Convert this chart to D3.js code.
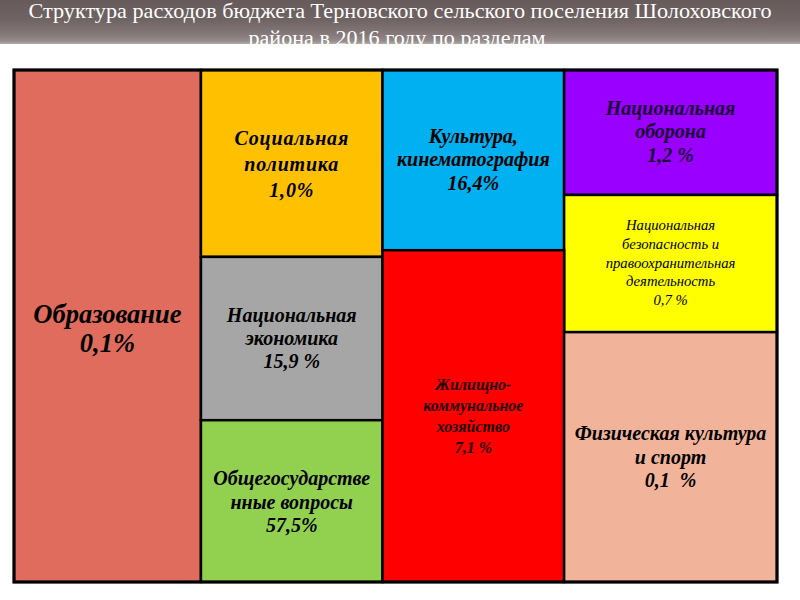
<!DOCTYPE html>
<html>
<head>
<meta charset="utf-8">
<script src="https://cdn.jsdelivr.net/npm/d3@7/dist/d3.min.js"></script>
<style>
html,body{margin:0;padding:0;background:#fff;}
svg{display:block;}
</style>
</head>
<body>
<svg id="chart" width="800" height="600"></svg>
<script>
// ---- data ----
const titleLines = [
  "Структура расходов бюджета Терновского сельского поселения Шолоховского",
  "района в 2016 году по разделам"
];
const categories = [
  ["Образование"],
  ["Социальная", "политика"],
  ["Культура,", "кинематография"],
  ["Национальная", "оборона"],
  ["Национальная", "безопасность и", "правоохранительная", "деятельность"],
  ["Национальная", "экономика"],
  ["Общегосударстве", "нные вопросы"],
  ["Жилищно-", "коммунальное", "хозяйство"],
  ["Физическая культура", "и спорт"]
];
const values = [0.1, 1.0, 16.4, 1.2, 0.7, 15.9, 57.5, 7.1, 0.1];
const valueLabels = ["0,1%", "1,0%", "16,4%", "1,2 %", "0,7 %", "15,9 %", "57,5%", "7,1 %", "0,1  %"];
const colors = ["#E06C5D", "#FFC000", "#00B0F0", "#9900FF", "#FFFF00", "#A6A6A6", "#92D050", "#FF0000", "#F2B39B"];

// ---- layout of the slide's hand-placed boxes (fractions of the frame) ----
const colEdges = [0, 0.245, 0.483, 0.721, 1];
const cellCol  = [0, 1, 2, 3, 3, 1, 1, 2, 3];
const cellY0   = [0, 0, 0, 0, 0.244, 0.365, 0.684, 0.352, 0.512];
const cellY1   = [1, 0.365, 0.352, 0.244, 0.512, 0.684, 1, 1, 1];
const fontSizes = [26.5, 20, 20, 20, 14.7, 20, 20, 16, 20];
const letterSp  = [0, 0.8, 0, 0, 0, 0, 0, 0, 0];
const lineGaps  = [29, 26, 23.5, 23.5, 18.8, 23, 23.5, 21, 23.5];
const textCol   = ["#000", "#000", "#000", "#1a0833", "#000", "#000", "#000", "#1a0000", "#000"];
const weights   = ["bold", "bold", "bold", "bold", "normal", "bold", "bold", "bold", "bold"];
const firstBase = [0.494, 0.401, 0.404, 0.36, 0.255, 0.399, 0.401, 0.421, 0.432];

const svg = d3.select("#chart");
const frame = {x0: 14, x1: 777, y0: 70, y1: 582};
const x = d3.scaleLinear().domain([0, 1]).range([frame.x0, frame.x1]);
const y = d3.scaleLinear().domain([0, 1]).range([frame.y0, frame.y1]);

// title band
const defs = svg.append("defs");
const g = defs.append("linearGradient").attr("id", "band").attr("x1", 0).attr("y1", 0).attr("x2", 0).attr("y2", 1);
[[0, "#675a5a"], [0.45, "#706363"], [0.8, "#867a7a"], [0.93, "#958b8b"], [1, "#b3abab"]]
  .forEach(([o, c]) => g.append("stop").attr("offset", o).attr("stop-color", c));
svg.append("rect").attr("x", 0).attr("y", 0).attr("width", 800).attr("height", 44).attr("fill", "url(#band)");

svg.append("text").attr("x", 400).attr("y", 18).attr("text-anchor", "middle")
  .attr("font-family", "Liberation Serif").attr("font-size", 21).attr("fill", "#fff")
  .attr("textLength", 743).attr("lengthAdjust", "spacingAndGlyphs").text(titleLines[0]);
svg.append("text").attr("x", 397).attr("y", 45).attr("text-anchor", "middle")
  .attr("font-family", "Liberation Serif").attr("font-size", 20).attr("fill", "#fff")
  .attr("textLength", 297).attr("lengthAdjust", "spacingAndGlyphs").text(titleLines[1]);

const cells = values.map((v, i) => ({
  i, v, name: categories[i], label: valueLabels[i], color: colors[i],
  x0: x(colEdges[cellCol[i]]), x1: x(colEdges[cellCol[i] + 1]),
  y0: y(cellY0[i]), y1: y(cellY1[i])
}));

svg.selectAll("rect.cell").data(cells).join("rect").attr("class", "cell")
  .attr("x", d => d.x0).attr("y", d => d.y0)
  .attr("width", d => d.x1 - d.x0).attr("height", d => d.y1 - d.y0)
  .attr("fill", d => d.color).attr("stroke", "#000").attr("stroke-width", 2.5);

svg.append("rect").attr("x", frame.x0).attr("y", frame.y0)
  .attr("width", frame.x1 - frame.x0).attr("height", frame.y1 - frame.y0)
  .attr("fill", "none").attr("stroke", "#000").attr("stroke-width", 3);

cells.forEach(d => {
  const lines = d.name.concat([d.label]);
  const fs = fontSizes[d.i], gap = lineGaps[d.i];
  const cx = (d.x0 + d.x1) / 2;
  const startY = d.y0 + (d.y1 - d.y0) * firstBase[d.i];
  const t = svg.append("text").attr("text-anchor", "middle")
    .attr("font-family", "Liberation Serif").attr("font-style", "italic")
    .attr("font-weight", weights[d.i]).attr("font-size", fs).attr("fill", textCol[d.i])
    .attr("letter-spacing", letterSp[d.i])
    .attr("xml:space", "preserve");
  lines.forEach((l, k) => t.append("tspan").attr("x", cx).attr("y", startY + k * gap).text(l));
});
</script>
</body>
</html>
